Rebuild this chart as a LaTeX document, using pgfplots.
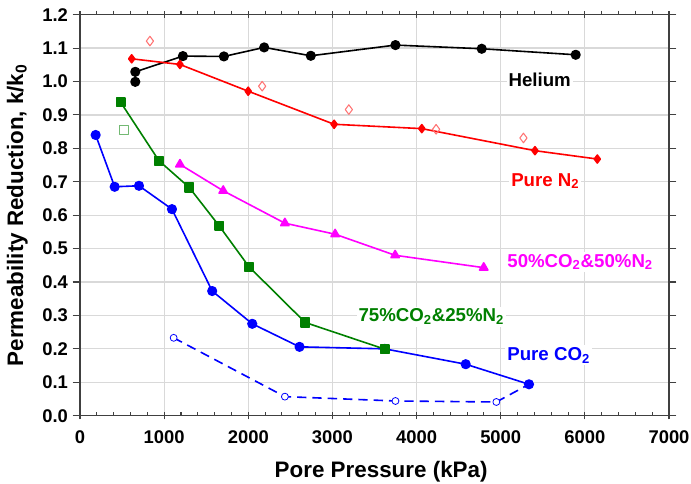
\documentclass[border=0pt]{standalone}
\usepackage{fontspec}
\setmainfont{Liberation Sans}
\usepackage{pgfplots}
\pgfplotsset{compat=1.18}
\definecolor{grn}{HTML}{008000}
\definecolor{mag}{HTML}{FF00FF}
\definecolor{rd}{HTML}{FF0000}
\definecolor{bl}{HTML}{0000FF}
\definecolor{gridc}{HTML}{D9D9D9}

\begin{document}
\begin{tikzpicture}[font=\bfseries]
\begin{axis}[scale only axis,width=441.75pt,height=300.75pt,
  xmin=0,xmax=7000,ymin=0,ymax=1.2,
  xtick={0,1000,2000,3000,4000,5000,6000,7000},
  ytick={0,0.1,0.2,0.3,0.4,0.5,0.6,0.7,0.8,0.9,1.0,1.1,1.2},
  minor x tick num=4,
  ytick align=outside,xtick align=center,
  major tick length=5.5pt,minor tick length=3pt,
  minor x tick style={yshift=1.5pt},
  grid=major,grid style={gridc,line width=0.9pt},
  axis line style={line width=1.1pt,black!75},
  every tick/.style={black!75,line width=0.8pt},
  /pgf/number format/assume math mode=true,
  tick label style={font=\bfseries\fontsize{13.8}{14}\selectfont},
  yticklabel style={/pgf/number format/.cd,fixed,fixed zerofill,precision=1},
  xticklabel style={yshift=-5pt,/pgf/number format/.cd,1000 sep={}},
  scaled x ticks=false,
  xlabel={Pore Pressure (kPa)},
  ylabel={Permeability Reduction, k/k\textsubscript{0}},
  label style={font=\bfseries\fontsize{16.8}{18}\selectfont},
  xlabel style={yshift=-6pt,xshift=5pt},
  ylabel style={yshift=4pt},
  line join=round]

% Helium
\addplot[black,line width=1.2pt,mark=*,mark size=3.2pt] coordinates {
(657,0.999)(657,1.029)(1223,1.076)(1710,1.075)(2189,1.102)(2743,1.077)(3749,1.109)(4774,1.098)(5891,1.080)};
% Pure N2
\addplot[rd,line width=1.2pt,mark=diamond*,mark size=3pt] coordinates {
(614,1.068)(1188,1.051)(1999,0.971)(3020,0.872)(4062,0.859)(5407,0.793)(6148,0.768)};
\addplot[only marks,rd!55,mark=diamond,mark size=3.6pt,mark options={line width=0.8pt}] coordinates {
(831,1.121)(2165,0.986)(3195,0.916)(4232,0.857)(5270,0.831)};
% 50%CO2 & 50%N2
\addplot[mag,line width=1.2pt,mark=triangle*,mark size=3.6pt] coordinates {
(1188,0.752)(1702,0.673)(2435,0.576)(3032,0.543)(3745,0.480)(4798,0.443)};
% Pure CO2 (dashed, open)
\addplot[bl,line width=1.2pt,dash pattern=on 7pt off 4.5pt] coordinates {
(1113,0.233)(2435,0.057)(3749,0.044)(4948,0.041)(5336,0.094)};
\addplot[only marks,bl,mark=*,mark size=2.6pt,mark options={fill=white,line width=0.6pt}] coordinates {
(1113,0.233)(2435,0.057)(3749,0.044)(4948,0.041)};
% Pure CO2
\addplot[bl,line width=1.2pt,mark=*,mark size=3.2pt] coordinates {
(186,0.840)(412,0.685)(701,0.688)(1093,0.618)(1571,0.373)(2047,0.275)(2609,0.206)(3622,0.200)(4584,0.154)(5336,0.094)};
% 75%CO2 & 25%N2
\addplot[grn,line width=1.2pt,mark=square*,mark size=3.2pt] coordinates {
(483,0.938)(938,0.763)(1298,0.683)(1654,0.568)(2007,0.446)(2676,0.279)(3622,0.199)};
\addplot[only marks,grn!55,mark=square,mark size=3.4pt,mark options={line width=0.8pt}] coordinates {
(523,0.856)};

\begin{scope}[every node/.style={fill=white,inner sep=1.5pt,font=\bfseries\fontsize{14}{15}\selectfont}]
\node[text=black] at (axis cs:5463,1.004) {Helium};
\node[text=rd] at (axis cs:5530,0.702) {Pure N\textsubscript{2}};
\node[text=mag] at (axis cs:5944,0.460) {50\%CO\textsubscript{2}\&50\%N\textsubscript{2}};
\node[text=grn] at (axis cs:4175,0.296) {75\%CO\textsubscript{2}\&25\%N\textsubscript{2}};
\node[text=bl] at (axis cs:5570,0.181) {Pure CO\textsubscript{2}};
\end{scope}
\end{axis}
\pgfresetboundingbox
\path[use as bounding box] ([shift={(-60pt,-50.6pt)}]current axis.south west) rectangle ([shift={(16.5pt,11pt)}]current axis.north east);
\end{tikzpicture}
\end{document}
